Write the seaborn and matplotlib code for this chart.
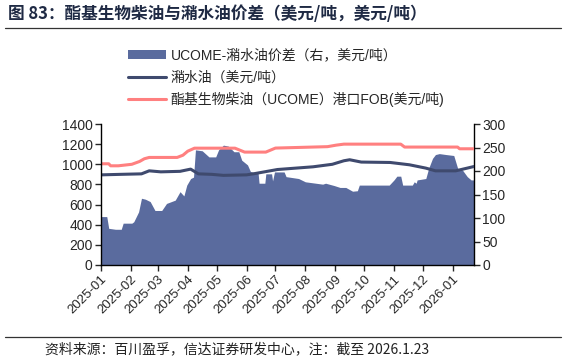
import matplotlib
matplotlib.use("Agg")
import matplotlib.pyplot as plt
import matplotlib.dates as mdates
from matplotlib.patches import Patch
from matplotlib.lines import Line2D
import seaborn as sns
import pandas as pd

# ---- data ----
spread_dates = ["2025-01-01","2025-01-07","2025-01-09","2025-01-16","2025-01-22","2025-01-24",
    "2025-02-02","2025-02-04","2025-02-09","2025-02-12","2025-02-16","2025-02-21","2025-02-26",
    "2025-03-05","2025-03-10","2025-03-19","2025-03-24","2025-03-28","2025-03-31","2025-04-04",
    "2025-04-07","2025-04-09","2025-04-16","2025-04-23","2025-04-30","2025-05-03","2025-05-08",
    "2025-05-13","2025-05-19","2025-05-24","2025-05-27","2025-06-02","2025-06-05","2025-06-10",
    "2025-06-13","2025-06-14","2025-06-20","2025-06-21","2025-06-27","2025-06-28","2025-06-30",
    "2025-07-10","2025-07-12","2025-07-25","2025-08-01","2025-08-19","2025-08-22","2025-08-31",
    "2025-09-06","2025-09-12","2025-09-19","2025-09-24","2025-09-26","2025-10-27","2025-11-01",
    "2025-11-04","2025-11-08","2025-11-10","2025-11-20","2025-11-22","2025-11-24","2025-11-25",
    "2025-12-04","2025-12-07","2025-12-11","2025-12-14","2025-12-18","2025-12-25","2026-01-02",
    "2026-01-06","2026-01-11","2026-01-16","2026-01-20","2026-01-23"]
spread_vals = [103,103,78,76,76,89,
    89,92,113,142,140,135,116,
    116,131,138,156,147,170,184,
    187,245,243,230,230,245,255,
    253,241,241,223,213,199,196,
    196,174,174,194,194,179,198,
    198,188,184,177,172,174,169,
    165,165,157,158,170,170,181,
    189,189,170,170,177,174,181,
    184,206,227,235,237,235,233,
    206,202,188,181,181]

gasoil_dates = ["2025-01-01","2025-01-21","2025-02-12","2025-02-20","2025-03-04","2025-03-24",
    "2025-04-04","2025-04-12","2025-04-26","2025-05-08","2025-06-01","2025-06-08","2025-07-03",
    "2025-08-09","2025-08-29","2025-09-10","2025-09-16","2025-09-28","2025-10-28","2025-11-17",
    "2025-12-04","2025-12-14","2026-01-04","2026-01-16","2026-01-23"]
gasoil_vals = [895,900,905,935,925,930,
    952,905,900,890,895,905,948,
    975,1000,1035,1045,1022,1018,995,
    962,935,935,962,978]

ucome_dates = ["2025-01-01","2025-01-09","2025-01-11","2025-01-19","2025-02-02","2025-02-10",
    "2025-02-15","2025-02-20","2025-03-21","2025-03-27","2025-04-01","2025-04-08","2025-05-20",
    "2025-05-30","2025-06-21","2025-07-01","2025-08-24","2025-09-02","2025-09-10","2025-11-08",
    "2025-11-12","2026-01-06","2026-01-08","2026-01-23"]
ucome_vals = [1005,1005,985,985,1000,1028,
    1055,1068,1068,1090,1130,1160,1160,
    1121,1121,1161,1175,1190,1200,1200,
    1171,1171,1154,1154]

month_ticks = ["2025-01","2025-02","2025-03","2025-04","2025-05","2025-06","2025-07",
               "2025-08","2025-09","2025-10","2025-11","2025-12","2026-01"]

lbl_spread = "UCOME-潲水油价差（右，美元/吨）"
lbl_gasoil = "潲水油（美元/吨）"
lbl_ucome = "酯基生物柴油（UCOME）港口FOB(美元/吨)"

# ---- style ----
sns.set_style("white")
plt.rcParams["font.family"] = ["Liberation Sans", "Noto Sans CJK SC", "DejaVu Sans"]

C_AREA = "#5a6b9e"
C_NAVY = "#3f4a6e"
C_RED = "#ff8080"

sp = pd.DataFrame({"date": pd.to_datetime(spread_dates), "v": spread_vals})
go = pd.DataFrame({"date": pd.to_datetime(gasoil_dates), "v": gasoil_vals})
uc = pd.DataFrame({"date": pd.to_datetime(ucome_dates), "v": ucome_vals})

fig = plt.figure(figsize=(5.66, 3.6), dpi=100)
ax = fig.add_axes([101/566, 1-265/360, (474-101)/566, (265-124)/360])
ax2 = ax.twinx()

ax2.fill_between(sp["date"], 0, sp["v"], color=C_AREA, linewidth=0)
ax2.set_ylim(0, 300)
ax2.set_yticks(range(0, 301, 50))

sns.lineplot(data=go, x="date", y="v", ax=ax, color=C_NAVY, linewidth=2.2)
sns.lineplot(data=uc, x="date", y="v", ax=ax, color=C_RED, linewidth=2.2)
ax.set_zorder(ax2.get_zorder() + 1)
ax.patch.set_visible(False)

ax.set_ylim(0, 1400)
ax.set_yticks(range(0, 1401, 200))
ax.set_xlim(pd.Timestamp("2025-01-01"), pd.Timestamp("2026-01-23"))
ax.set_xticks(pd.to_datetime(month_ticks))
ax.xaxis.set_major_formatter(mdates.DateFormatter("%Y-%m"))
ax.set_xlabel("")
ax.set_ylabel("")
ax2.set_ylabel("")

for a in (ax, ax2):
    a.spines["top"].set_visible(False)
    for s in ("left", "right", "bottom"):
        a.spines[s].set_color("black")
        a.spines[s].set_linewidth(1.0)
ax.spines["right"].set_visible(False)
ax2.spines["left"].set_visible(False)
ax2.spines["bottom"].set_visible(False)

ax.tick_params(axis="y", which="major", length=4, width=1, direction="out", left=True, labelsize=10, pad=2)
ax.tick_params(axis="x", which="major", length=4, width=1, direction="out", bottom=True, labelsize=9.5, pad=2)
ax2.tick_params(axis="y", which="major", length=4, width=1, direction="out", right=True, labelsize=10, pad=2)
for lab in ax.get_xticklabels():
    lab.set_rotation(45)
    lab.set_ha("right")
    lab.set_rotation_mode("anchor")

handles = [Patch(facecolor=C_AREA, edgecolor="none"),
           Line2D([0], [0], color=C_NAVY, lw=2.2),
           Line2D([0], [0], color=C_RED, lw=2.2)]
fig.legend(handles, [lbl_spread, lbl_gasoil, lbl_ucome], loc="upper left",
           bbox_to_anchor=(122/566, 1-43/360), frameon=False, fontsize=10,
           handlelength=2.8, handleheight=0.6, labelspacing=0.55, handletextpad=0.3,
           borderaxespad=0)

# title, rules, source
fig.text(8/566, 1-14/360, "图 83：酯基生物柴油与潲水油价差（美元/吨，美元/吨）",
         fontsize=12, fontweight="bold", color="#1f2a44", va="center", ha="left",
         family=["Noto Sans CJK SC", "DejaVu Sans"])
fig.add_artist(Line2D([5/566, 561/566], [1-28/360, 1-28/360], color="#333333", lw=0.9))
fig.add_artist(Line2D([5/566, 561/566], [1-337/360, 1-337/360], color="#333333", lw=0.9))
fig.text(45/566, 1-349/360, "资料来源：百川盈孚，信达证券研发中心，注：截至 2026.1.23",
         fontsize=10, color="#222222", va="center", ha="left", style="italic",
         family=["Noto Sans CJK SC", "DejaVu Sans"])

fig.savefig("out.png", dpi=100)
